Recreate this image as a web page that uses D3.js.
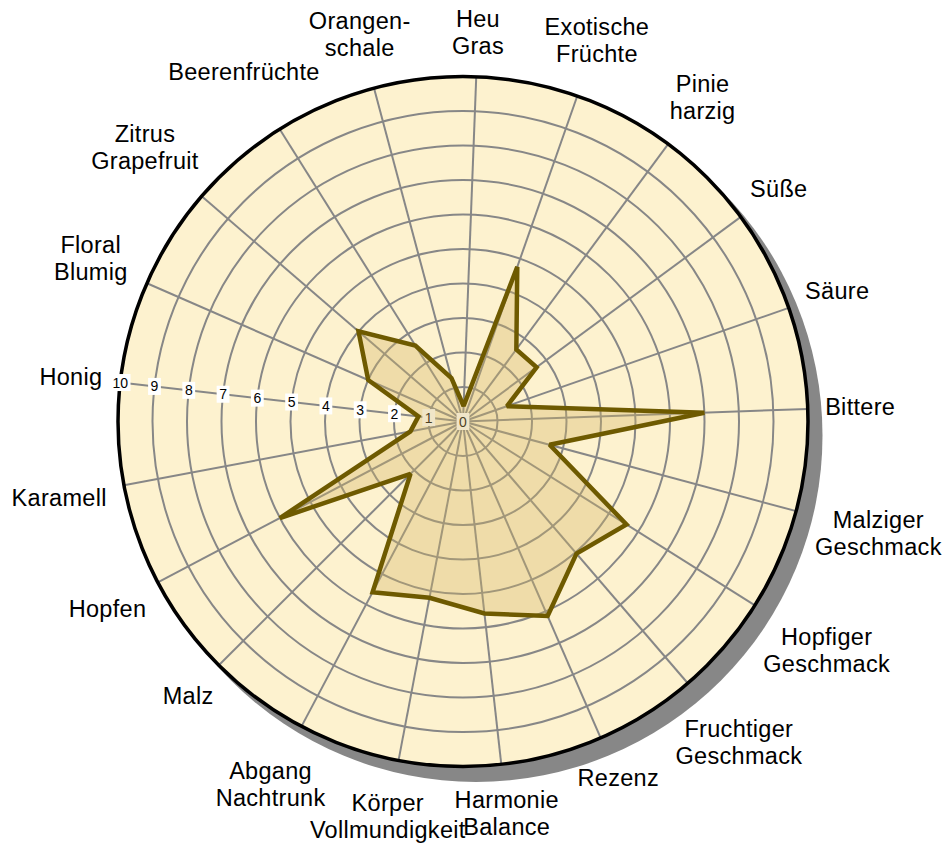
<!DOCTYPE html>
<html>
<head>
<meta charset="utf-8">
<script src="https://cdn.jsdelivr.net/npm/d3@7"></script>
<style>
  html, body { margin: 0; padding: 0; background: #ffffff; }
  svg { display: block; }
  text { font-family: "Liberation Sans", Arial, sans-serif; }
</style>
</head>
<body>
<svg id="chart" width="950" height="843"></svg>
<script>
// ---- data ----
const categories = [
  ["Heu", "Gras"],
  ["Exotische", "Früchte"],
  ["Pinie", "harzig"],
  ["Süße"],
  ["Säure"],
  ["Bittere"],
  ["Malziger", "Geschmack"],
  ["Hopfiger", "Geschmack"],
  ["Fruchtiger", "Geschmack"],
  ["Rezenz"],
  ["Harmonie", "Balance"],
  ["Körper", "Vollmundigkeit"],
  ["Abgang", "Nachtrunk"],
  ["Malz"],
  ["Hopfen"],
  ["Karamell"],
  ["Honig"],
  ["Floral", "Blumig"],
  ["Zitrus", "Grapefruit"],
  ["Beerenfrüchte"],
  ["Orangen-", "schale"]
];
const values = [0.45, 4.75, 2.6, 2.65, 1.35, 7.0, 2.6, 5.6, 5.05, 6.15, 5.6, 5.2, 5.6, 2.15, 6.0, 1.55, 1.3, 3.0, 4.0, 2.6, 1.3];
const tickValues = [0, 1, 2, 3, 4, 5, 6, 7, 8, 9, 10];
const tickLabels = ["0", "1", "2", "3", "4", "5", "6", "7", "8", "9", "10"];
const tickAxisIndex = 16; // ticks drawn along the "Honig" spoke

// ---- layout ----
const svg = d3.select("#chart");
const cx = 463, cy = 421.5, R = 345;
const n = categories.length;
const angleOffset = 2.2 * Math.PI / 180;
const angleScale = d3.scaleLinear().domain([0, n]).range([angleOffset, angleOffset + 2 * Math.PI]);
const r = d3.scaleLinear().domain([0, 10]).range([0, R]);

const g = svg.append("g").attr("transform", `translate(${cx},${cy})`);

// shadow
g.append("circle").attr("cx", 13).attr("cy", 14).attr("r", R + 1.5)
  .attr("fill", "#878787");
// disc
g.append("circle").attr("r", R).attr("fill", "#fdf2cf");

// rings
g.append("g").selectAll("circle")
  .data(tickValues.filter(v => v > 0 && v < 10))
  .join("circle")
  .attr("r", d => r(d))
  .attr("fill", "none")
  .attr("stroke", "#878787")
  .attr("stroke-width", 2);

// spokes
g.append("g").selectAll("line")
  .data(d3.range(n))
  .join("line")
  .attr("x1", 0).attr("y1", 0)
  .attr("x2", i => Math.sin(angleScale(i)) * R)
  .attr("y2", i => -Math.cos(angleScale(i)) * R)
  .attr("stroke", "#878787")
  .attr("stroke-width", 2);

// outer border
g.append("circle").attr("r", R).attr("fill", "none")
  .attr("stroke", "#000").attr("stroke-width", 3.5);

// tick labels along the Honig spoke
const ta = angleScale(tickAxisIndex);
const tg = g.append("g").selectAll("g")
  .data(tickValues)
  .join("g")
  .attr("transform", d => `translate(${Math.sin(ta) * r(d)},${-Math.cos(ta) * r(d)})`);
tg.append("text")
  .attr("text-anchor", "middle")
  .attr("dominant-baseline", "central")
  .attr("font-size", 14)
  .attr("fill", "#000")
  .text((d, i) => tickLabels[i]);
tg.each(function() {
  const t = d3.select(this).select("text");
  const w = t.node().getComputedTextLength();
  d3.select(this).insert("rect", "text")
    .attr("x", -w / 2 - 2.5).attr("y", -8.5)
    .attr("width", w + 5).attr("height", 17)
    .attr("fill", "#ffffff");
});

// data polygon
const radial = d3.lineRadial()
  .angle((d, i) => angleScale(i))
  .radius(d => r(d))
  .curve(d3.curveLinearClosed);
g.append("path")
  .attr("d", radial(values))
  .attr("fill", "#d4b460")
  .attr("fill-opacity", 0.35)
  .attr("stroke", "#6e5a00")
  .attr("stroke-width", 4.5)
  .attr("stroke-linejoin", "miter")
  .attr("stroke-miterlimit", 2);

// category labels
const lineH = 27, gap = 17;
const lg = g.append("g");
categories.forEach((lines, i) => {
  const a = angleScale(i);
  const sx = Math.sin(a), sy = -Math.cos(a);
  const t = lg.append("text")
    .attr("text-anchor", "middle")
    .attr("font-size", 23.5)
    .attr("letter-spacing", 0.3)
    .attr("fill", "#000");
  lines.forEach((s, k) => {
    t.append("tspan").attr("x", 0).text(s);
  });
  let w = 0;
  t.selectAll("tspan").each(function() { w = Math.max(w, this.getComputedTextLength()); });
  const halfH = lines.length === 1 ? 12 : 26.5;
  const D = R + gap + Math.abs(sx) * w / 2 + Math.abs(sy) * halfH;
  const px = sx * D, py = sy * D;
  t.selectAll("tspan")
    .attr("x", px)
    .attr("y", (d, k) => py + (k - (lines.length - 1) / 2) * lineH)
    .attr("dominant-baseline", "central");
});
</script>
</body>
</html>
